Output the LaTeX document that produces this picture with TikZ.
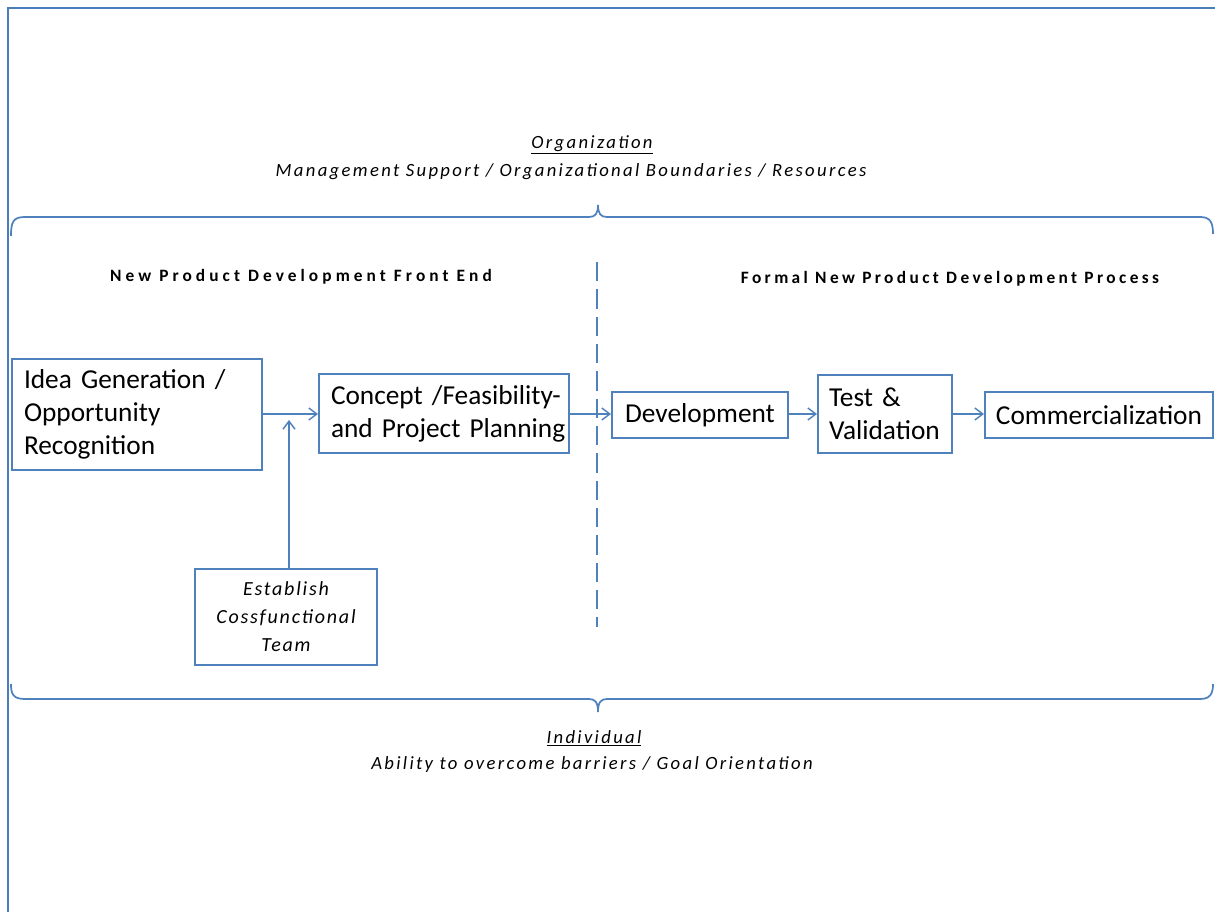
\documentclass[tikz,border=0pt]{standalone}
\usepackage{fontspec}
\setmainfont{Carlito}
\newfontfamily\boxfont[WordSpace=0.65]{Carlito}
\newfontfamily\labfont[LetterSpace=12.5]{Carlito}
\newfontfamily\teamfont[LetterSpace=9]{Carlito}
\newfontfamily\headLfont[LetterSpace=23.5]{Carlito}
\newfontfamily\headRfont[LetterSpace=19.5]{Carlito}
\usetikzlibrary{arrows.meta}
\definecolor{lineblue}{HTML}{4F81BD}
\definecolor{framblue}{HTML}{4A7EBB}
\tikzset{
  procbox/.style={draw=lineblue, line width=1.4pt, inner sep=0pt, font=\boxfont\fontsize{20.5}{24.75}\selectfont},
  flowarrow/.style={draw=lineblue, line width=1.3pt, -{Straight Barb[length=6pt,width=9pt,line width=1.1pt]}},
  bracepath/.style={draw=lineblue, line width=1.3pt},
  itlabel/.style={font=\labfont\fontsize{14}{16}\selectfont\itshape, inner sep=0pt},
  headlabel/.style={inner sep=0pt},
}
\hbadness=10000 \hfuzz=200pt
\begin{document}
\begin{tikzpicture}[x=0.75pt,y=-0.75pt]
\useasboundingbox (0,0) rectangle (1215,912);
% frame
\draw[framblue, line width=1.8pt] (8,920) -- (8,8) -- (1225,8);
% top brace
\draw[bracepath] (11,236) .. controls (11,222) and (13,217) .. (25,217) -- (589,217)
  .. controls (595,217) and (598,214) .. (598,205)
  .. controls (598,214) and (601,217) .. (607,217) -- (1200,217)
  .. controls (1210,217) and (1213,222) .. (1213,234);
% bottom brace
\draw[bracepath] (11,684) .. controls (11,694) and (13,699) .. (25,699) -- (589,699)
  .. controls (595,699) and (598,702) .. (598,712)
  .. controls (598,702) and (601,699) .. (607,699) -- (1200,699)
  .. controls (1210,699) and (1213,694) .. (1213,684);
% dashed divider
\coordinate (dtop) at (597,262);
\coordinate (dbot) at (597,627);
\draw[lineblue, line width=1.2pt, dash pattern=on 14.5pt off 6pt] (dtop) -- (dbot);
% labels
\node[itlabel] (org) at (592,145) {\underline{Organization}};
\node[itlabel] (mgmt) at (571,172) {Management Support / Organizational Boundaries / Resources};
\node[itlabel] (indiv) at (594,738) {\underline{Individual}};
\node[itlabel] (abil) at (592,765) {Ability to overcome barriers / Goal Orientation};
\node[headlabel, font=\headLfont\fontsize{13}{15}\selectfont\bfseries] (hl) at (301,277) {New Product Development Front End};
\node[headlabel, font=\headRfont\fontsize{13}{15}\selectfont\bfseries] (hr) at (950,279) {Formal New Product Development Process};
% boxes
\node[procbox, minimum width=187.5pt, minimum height=83.25pt, text width=169.5pt, align=left] (idea) at (137,414.5)
  {\mbox{Idea Generation /}\\\mbox{Opportunity}\\\mbox{Recognition}};
\node[procbox, minimum width=187.5pt, minimum height=59.25pt, text width=169.5pt, align=left] (concept) at (444,413.5)
  {\mbox{Concept /Feasibility-}\\\mbox{and Project Planning}};
\node[procbox, minimum width=132pt, minimum height=34.5pt, align=center] (dev) at (700,415) {Development};
\node[procbox, minimum width=100.5pt, minimum height=58.5pt, text width=84pt, align=left] (test) at (885,414)
  {\mbox{Test \&}\\\mbox{Validation}};
\node[procbox, minimum width=171pt, minimum height=34.5pt, align=center] (comm) at (1099,415) {Commercialization};
\node[procbox, minimum width=136.5pt, minimum height=72pt, align=center, font=\teamfont\fontsize{15}{21}\selectfont\itshape] (team) at (286,617)
  {Establish\\Cossfunctional\\Team};
% arrows
\draw[flowarrow] (idea.east |- 0,414) -- (concept.west |- 0,414);
\coordinate (teamend) at (289,420);
\draw[flowarrow] (team.north -| teamend) -- (teamend);
\draw[flowarrow] (concept.east |- 0,414) -- (dev.west |- 0,414);
\draw[flowarrow] (dev.east |- 0,414) -- (test.west |- 0,414);
\draw[flowarrow] (test.east |- 0,414) -- (comm.west |- 0,414);
\end{tikzpicture}
\end{document}
